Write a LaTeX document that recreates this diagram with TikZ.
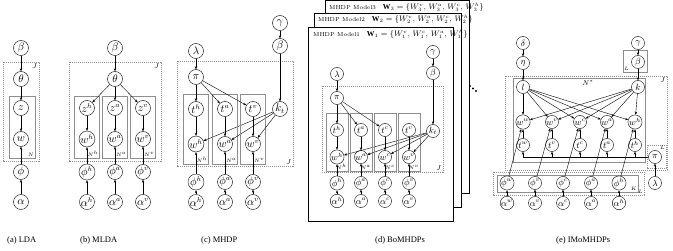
\documentclass[tikz,border=0pt]{standalone}
\usepackage{fontspec}
\setmainfont{Liberation Serif}
\newfontfamily\lmr{Latin Modern Roman}
\usepackage{tikz}
\usetikzlibrary{arrows.meta}
\definecolor{frm}{HTML}{8E8E8E}
\newcommand{\wset}[1]{{\fontsize{7.6}{8}\selectfont$\mathbf{W}_{#1}=\{W_{#1}^{v},\,W_{#1}^{a},\,W_{#1}^{c},\,W_{#1}^{h}\}$}}
\tikzset{
  var/.style={circle,draw,thin,minimum size=15pt,inner sep=0pt,font=\fontsize{10.5}{11}\selectfont},
  svar/.style={var,minimum size=13pt,font=\fontsize{9}{10}\selectfont},
  arr/.style={-{Stealth[length=3pt,width=2.4pt]},thin},
  plate/.style={draw=frm,thin},
  dplate/.style={draw=frm,thin,dash pattern=on 1.2pt off 0.8pt},
  jlbl/.style={font=\fontsize{7.5}{8}\selectfont,inner sep=1.5pt},
  nlbl/.style={font=\fontsize{5.5}{6}\selectfont,inner sep=1pt},
  page/.style={draw,thin,fill=white},
  hdr/.style={font=\lmr\fontsize{5.8}{6}\selectfont,anchor=west,inner sep=0pt},
  subcap/.style={font=\fontsize{8.5}{10}\selectfont,anchor=west,inner sep=0pt},
}

\begin{document}
\begin{tikzpicture}[x=1pt,y=-1pt]
\useasboundingbox (0,0) rectangle (673,251);

% (a) LDA
\draw[dplate] (3,62) rectangle (39,161);
\draw[plate] (9,96) rectangle (35,158);
\node[jlbl,anchor=north east] at (39,62) {$J$};
\node[nlbl,anchor=south east] at (35,158) {$N$};
\node[var] (aB) at (21,48) {$\beta$};
\node[var] (aT) at (21,79) {$\theta$};
\node[var] (aZ) at (21,108) {$z$};
\node[var] (aW) at (21,139) {$w$};
\node[var] (aP) at (21,172) {$\phi$};
\node[var] (aA) at (21,202) {$\alpha$};
\draw[arr] (aB) -- (aT); \draw[arr] (aT) -- (aZ); \draw[arr] (aZ) -- (aW);
\draw[arr] (aP) -- (aW); \draw[arr] (aA) -- (aP);

% (b) MLDA
\draw[dplate] (69,62) rectangle (161,161);
\node[jlbl,anchor=north east] at (161,62) {$J$};
\node[var] (bB) at (115,48) {$\beta$};
\node[var] (bT) at (115,79) {$\theta$};
\draw[arr] (bB) -- (bT);
\foreach \x/\s in {87/h,115/a,143/v}{
  \draw[plate] (\x-12.5,96) rectangle (\x+12.5,158);
  \node[nlbl,anchor=south east] at (\x+12.5,158) {$N^\s$};
  \node[var] (bz\s) at (\x,108) {$z^\s$};
  \node[var] (bw\s) at (\x,139) {$w^\s$};
  \node[var] (bp\s) at (\x,172) {$\phi^\s$};
  \node[var] (ba\s) at (\x,202) {$\alpha^\s$};
  \draw[arr] (bT) -- (bz\s); \draw[arr] (bz\s) -- (bw\s);
  \draw[arr] (bp\s) -- (bw\s); \draw[arr] (ba\s) -- (bp\s);
}

% (c) MHDP
\draw[dplate] (177,61) rectangle (293,166);
\node[jlbl,anchor=south east] at (293,166) {$J$};
\node[var] (cL) at (196,51) {$\lambda$};
\node[var] (cPi) at (196,77) {$\pi$};
\node[var] (cG) at (280,23) {$\gamma$};
\node[var] (cB) at (280,46) {$\beta$};
\node[var] (cK) at (280,109) {$k_t$};
\draw[arr] (cL) -- (cPi); \draw[arr] (cG) -- (cB); \draw[arr] (cB) -- (cK);
\foreach \x/\s in {196/h,225/a,253/v}{
  \draw[plate] (\x-12.5,94) rectangle (\x+12.5,164);
  \node[nlbl,anchor=south east] at (\x+12.5,164) {$N^\s$};
  \node[var] (ct\s) at (\x,109) {$t^\s$};
  \node[var] (cw\s) at (\x,144) {$w^\s$};
  \node[var] (cp\s) at (\x,182) {$\phi^\s$};
  \node[var] (ca\s) at (\x,202) {$\alpha^\s$};
  \draw[arr] (cPi) -- (ct\s); \draw[arr] (ct\s) -- (cw\s); \draw[arr] (cK) -- (cw\s);
  \draw[arr] (cp\s) -- (cw\s); \draw[arr] (ca\s) -- (cp\s);
}

% (d) BoMHDPs
\draw[page] (325,0.5) rectangle (469,193);
\node[hdr] (h3) at (329,7) {MHDP Model3\hspace{7pt}\wset{3}};
\draw[page] (314,13) rectangle (461,207);
\node[hdr] (h2) at (318,19.5) {MHDP Model2\hspace{7pt}\wset{2}};
\draw[page] (308,27) rectangle (453,221);
\node[hdr] (h1) at (313,34) {MHDP Model1\hspace{7pt}{\fontsize{7.6}{8}\selectfont$\mathbf{W}_{1}=\{W_{1}^{v},\,W_{1}^{c},\,W_{1}^{a},\,W_{1}^{h}\}$}};
\draw[dplate] (322,86) rectangle (443,172);
\node[jlbl,anchor=south east] at (443,172) {$J$};
\node[svar] (dL) at (337,74) {$\lambda$};
\node[svar] (dPi) at (337,98) {$\pi$};
\node[svar] (dG) at (433,52) {$\gamma$};
\node[svar] (dB) at (433,73) {$\beta$};
\node[svar] (dK) at (433,131) {$k_t$};
\draw[arr] (dL) -- (dPi); \draw[arr] (dG) -- (dB); \draw[arr] (dB) -- (dK);
\foreach \x/\s in {337/h,361/a,385/c,409/v}{
  \draw[plate] (\x-11,113) rectangle (\x+11,171);
  \node[nlbl,anchor=south east] at (\x+11,171) {$N^\s$};
  \node[svar] (dt\s) at (\x,130) {$t^\s$};
  \node[svar] (dw\s) at (\x,157) {$w^\s$};
  \node[svar] (dp\s) at (\x,183) {$\phi^\s$};
  \node[svar] (da\s) at (\x,201) {$\alpha^\s$};
  \draw[arr] (dt\s) -- (dw\s); \draw[arr] (dK) -- (dw\s);
  \draw[arr] (dp\s) -- (dw\s); \draw[arr] (da\s) -- (dp\s);
}
\foreach \s in {h,a,c} \draw[arr] (dPi) -- (dt\s);
\foreach \i in {0,1,2} \fill (470+3*\i,86+2.5*\i) circle (1.2);

% (e) IMoMHDPs
\draw[dplate] (505,76) rectangle (667,170);
\node[jlbl,anchor=north east] at (667,76) {$J$};
\draw[plate] (513,78) rectangle (645,162);
\node[nlbl,font=\fontsize{7}{7}\selectfont] at (588,83) {$N^*$};
\draw[plate] (623,50) rectangle (647,72);
\node[nlbl,anchor=south west] at (623,72) {$L$};
\draw[dplate] (647,145) rectangle (666,168);
\node[nlbl,anchor=north east] at (666,145) {$L$};
\draw[dplate] (493,172) rectangle (644,195);
\node[nlbl,anchor=south east] at (644,195) {$L$};
\draw[plate] (497,175) rectangle (638,192);
\node[nlbl,anchor=south east] at (638,192) {$K$};
\node[svar] (eD) at (523,43) {$\delta$};
\node[svar] (eE) at (523,63) {$\eta$};
\node[svar] (eL) at (523,87) {$l$};
\node[svar] (eG) at (638,43) {$\gamma$};
\node[svar] (eB) at (638,62) {$\beta$};
\node[svar] (eK) at (638,87) {$k$};
\node[svar] (ePi) at (655,157) {$\pi$};
\node[svar] (eLa) at (655,183) {$\lambda$};
\draw[arr] (eD) -- (eE); \draw[arr] (eE) -- (eL);
\draw[arr] (eG) -- (eB); \draw[arr] (eB) -- (eK);
\draw[arr] (eLa) -- (ePi);
\coordinate (eEnd) at (523,157);
\draw[thin] (ePi) -- (eEnd);
\foreach \x/\s in {523/w,552/v,580/c,607/a,635/h}{
  \node[svar] (ew\s) at (\x,122) {$w^\s$};
  \node[svar] (et\s) at (\x,145) {$t^\s$};
  \coordinate (eb\s) at (\x,157);
  \draw[arr] (et\s) -- (ew\s); \draw[arr] (eb\s) -- (et\s);
  \draw[arr] (eL) -- (ew\s); \draw[arr] (eK) -- (ew\s);
}
\foreach \x/\s in {507/w,535/v,563/c,591/a,619/h}{
  \node[svar] (ep\s) at (\x,183) {$\phi^\s$};
  \node[svar] (ea\s) at (\x,203) {$\alpha^\s$};
  \draw[arr] (ea\s) -- (ep\s); \draw[arr] (ep\s) -- (ew\s);
}

% captions
\node[subcap] (capa) at (7,240) {(a) LDA};
\node[subcap] (capb) at (80,240) {(b) MLDA};
\node[subcap] (capc) at (201,240) {(c) MHDP};
\node[subcap] (capd) at (375,240) {(d) BoMHDPs};
\node[subcap] (cape) at (556,240) {(e) IMoMHDPs};
\end{tikzpicture}
\end{document}
